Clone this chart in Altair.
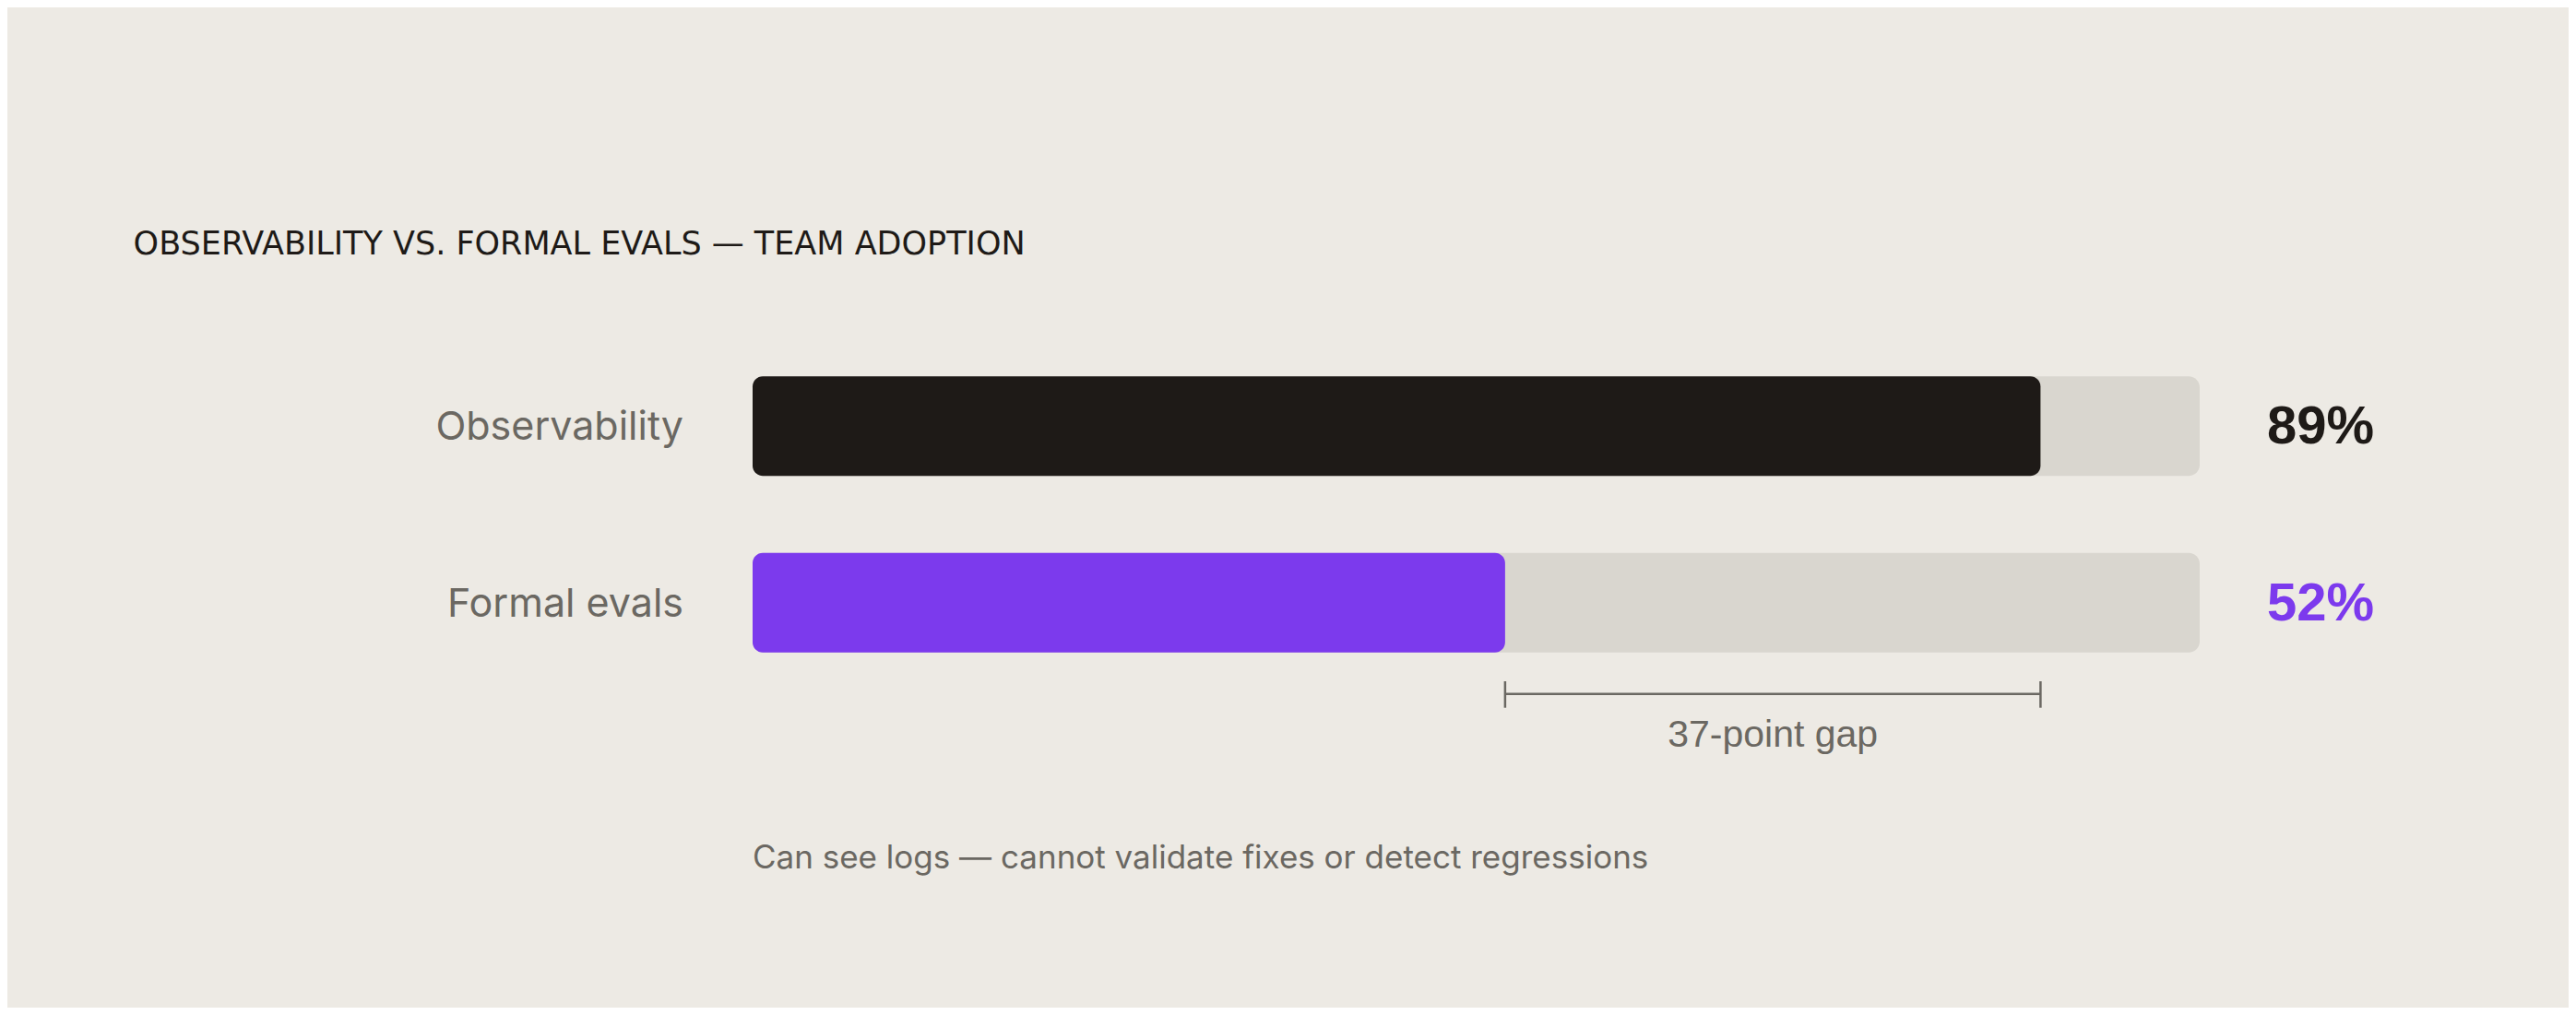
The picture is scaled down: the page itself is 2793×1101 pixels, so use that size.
import altair as alt
import pandas as pd

# ---- data ----
categories = ["Observability", "Formal evals"]
values = [89, 52]
value_labels = ["89%", "52%"]
bar_colors = ["#1E1A17", "#7C3AED"]
track_max = [100, 100]
bar_start = [0, 0]
gap_ends = [52, 89]
gap_label = "37-point gap"
title_text = "OBSERVABILITY VS. FORMAL EVALS \u2014 TEAM ADOPTION"
footnote_text = "Can see logs \u2014 cannot validate fixes or detect regressions"

bars = pd.DataFrame({
    "category": categories,
    "value": values,
    "label": value_labels,
    "track": track_max,
    "zero": bar_start,
})
gap_df = pd.DataFrame({"lo": [gap_ends[0]], "hi": [gap_ends[1]], "label": [gap_label]})
ends_df = pd.DataFrame({"end": gap_ends})
title_df = pd.DataFrame({"t": [title_text]})
foot_df = pd.DataFrame({"t": [footnote_text], "zero": [0]})

BG = "#EDEAE4"
TRACK = "#D9D6CF"
GRAY = "#6B6862"
INK = "#1E1A17"

xs = alt.Scale(domain=[0, 100], range=[808, 2377])
ys = alt.Scale(domain=categories, range=[358.4, 741.6], paddingInner=0, paddingOuter=0)
cs = alt.Scale(domain=categories, range=bar_colors)

base = alt.Chart(bars)

track = base.mark_bar(color=TRACK, size=108, cornerRadius=12).encode(
    x=alt.X("zero:Q", scale=xs, axis=None),
    x2="track:Q",
    y=alt.Y("category:N", scale=ys, axis=None),
)

fill = base.mark_bar(size=108, cornerRadius=11).encode(
    x=alt.X("zero:Q", scale=xs, axis=None),
    x2="value:Q",
    y=alt.Y("category:N", scale=ys, axis=None),
    color=alt.Color("category:N", scale=cs, legend=None),
)

cat_labels = base.mark_text(
    align="right", baseline="alphabetic", dx=-75, dy=15,
    fontSize=43, font="Inter", color=GRAY,
).encode(
    x=alt.X("zero:Q", scale=xs, axis=None),
    y=alt.Y("category:N", scale=ys, axis=None),
    text="category:N",
)

val_labels = base.mark_text(
    align="left", baseline="alphabetic", dx=73, dy=19,
    fontSize=58, font="Liberation Sans", fontWeight="bold",
).encode(
    x=alt.X("track:Q", scale=xs, axis=None),
    y=alt.Y("category:N", scale=ys, axis=None),
    text="label:N",
    color=alt.Color("category:N", scale=cs, legend=None),
)

gap_line = alt.Chart(gap_df).mark_rule(color=GRAY, strokeWidth=2.5).encode(
    x=alt.X("lo:Q", scale=xs, axis=None),
    x2="hi:Q",
    y=alt.value(744.7),
)

gap_ticks = alt.Chart(ends_df).mark_rule(color=GRAY, strokeWidth=2.5).encode(
    x=alt.X("end:Q", scale=xs, axis=None),
    y=alt.value(731),
    y2=alt.value(759.7),
)

gap_text = alt.Chart(gap_df).transform_calculate(
    mid="(datum.lo + datum.hi) / 2"
).mark_text(
    align="center", baseline="alphabetic", fontSize=41,
    font="Liberation Sans", color=GRAY,
).encode(
    x=alt.X("mid:Q", scale=xs, axis=None),
    y=alt.value(802),
    text="label:N",
)

footnote = alt.Chart(foot_df).mark_text(
    align="left", baseline="alphabetic", fontSize=35, font="Inter", color=GRAY,
).encode(
    x=alt.X("zero:Q", scale=xs, axis=None),
    y=alt.value(933.7),
    text="t:N",
)

title = alt.Chart(title_df).mark_text(
    align="left", baseline="alphabetic", fontSize=35, font="DejaVu Sans", color=INK,
).encode(
    x=alt.value(136.6),
    y=alt.value(268),
    text="t:N",
)

chart = alt.layer(
    track, fill, cat_labels, val_labels, gap_line, gap_ticks, gap_text, footnote, title
).properties(
    width=2777,
    height=1085,
    autosize=alt.AutoSizeParams(type="none"),
    padding=0,
    background=BG,
).configure_view(stroke=None)

chart.save("out.html", embed_options={"renderer": "svg", "actions": False})
